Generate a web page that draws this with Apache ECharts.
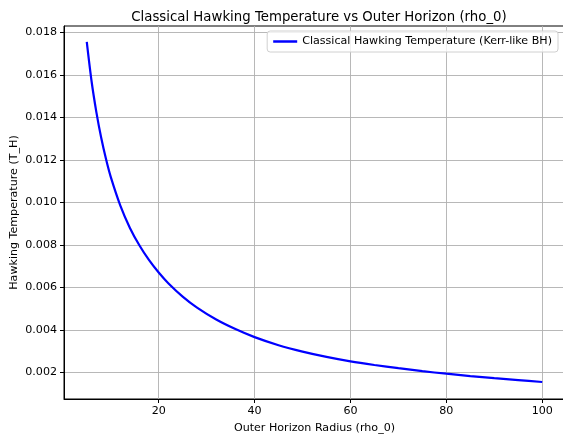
<!DOCTYPE html>
<html>
<head>
<meta charset="utf-8">
<script src="https://cdn.jsdelivr.net/npm/echarts@6/dist/echarts.min.js"></script>
<style>
  html, body { margin: 0; padding: 0; background: #fff; }
  #chart { width: 563px; height: 434px; }
</style>
</head>
<body>
<div id="chart"></div>
<script>
// Outer horizon radius rho_0 and the classical Hawking temperature at each radius
const rho0 = [5, 6, 7, 8, 9, 10, 12, 14, 16, 18, 20, 22, 25, 28, 32, 36, 40, 45, 50, 55, 60, 65, 70, 75, 80, 85, 90, 95, 100];
const hawkingT = [0.01755, 0.01570, 0.01425, 0.01305, 0.01205, 0.01120, 0.00985, 0.00880, 0.00797, 0.00728, 0.00670, 0.00620, 0.00557, 0.00505, 0.00449, 0.00404, 0.00366, 0.00328, 0.00298, 0.00273, 0.00252, 0.00235, 0.00220, 0.00206, 0.00194, 0.00183, 0.00173, 0.00164, 0.00155];

// Tick positions
const xTicks = [20, 40, 60, 80, 100];
const yTicks = [0.002, 0.004, 0.006, 0.008, 0.010, 0.012, 0.014, 0.016, 0.018];

const seriesName = 'Classical Hawking Temperature (Kerr-like BH)';
const FONT = 'DejaVu Sans';
const FS = 11.1;

const chart = echarts.init(document.getElementById('chart'), null, { renderer: 'canvas' });

const axisCommon = {
  axisLine: { show: true, onZero: false, lineStyle: { color: '#000', width: 1 } },
  axisTick: { show: true, inside: false, length: 4, lineStyle: { color: '#000', width: 1 } },
  splitLine: { show: true, lineStyle: { color: '#b0b0b0', width: 0.9 } },
  nameLocation: 'middle',
  nameMoveOverlap: false,
  nameTextStyle: { fontFamily: FONT, fontSize: FS, color: '#000' }
};

chart.setOption({
  animation: false,
  backgroundColor: '#fff',
  title: {
    text: 'Classical Hawking Temperature vs Outer Horizon (rho_0)',
    left: 314, top: 6, textAlign: 'center',
    textStyle: { fontFamily: FONT, fontSize: 13.3, fontWeight: 'normal', color: '#000' }
  },
  legend: {
    right: 5, top: 31,
    data: [{ name: seriesName, icon: 'rect' }],
    itemWidth: 24, itemHeight: 2.5, itemGap: 8,
    backgroundColor: 'rgba(255,255,255,0.8)',
    borderColor: '#d0d0d0', borderWidth: 1, borderRadius: 3,
    padding: [5, 6, 5, 6],
    textStyle: { fontFamily: FONT, fontSize: FS, color: '#000' }
  },
  grid: {
    left: 64, top: 26, right: -2, bottom: 35,
    containLabel: false, outerBoundsMode: 'none',
    show: true, borderColor: '#000', borderWidth: 1, backgroundColor: 'transparent'
  },
  xAxis: Object.assign({}, axisCommon, {
    type: 'value',
    min: 0.25, max: 104.75,
    name: 'Outer Horizon Radius (rho_0)',
    nameGap: 24,
    axisTick: Object.assign({}, axisCommon.axisTick, { customValues: xTicks }),
    axisLabel: { customValues: xTicks, margin: 7, fontFamily: FONT, fontSize: FS, color: '#000' }
  }),
  yAxis: Object.assign({}, axisCommon, {
    type: 'value',
    min: 0.00075, max: 0.0183,
    name: 'Hawking Temperature (T_H)',
    nameGap: 44,
    axisTick: Object.assign({}, axisCommon.axisTick, { customValues: yTicks }),
    axisLabel: {
      customValues: yTicks, margin: 7,
      fontFamily: FONT, fontSize: FS, color: '#000',
      formatter: v => v.toFixed(3)
    }
  }),
  series: [{
    name: seriesName,
    type: 'line',
    data: rho0.map((r, i) => [r, hawkingT[i]]),
    smooth: 0.3,
    showSymbol: false,
    lineStyle: { color: '#0000ff', width: 2.2 },
    itemStyle: { color: '#0000ff' }
  }]
});
</script>
</body>
</html>
